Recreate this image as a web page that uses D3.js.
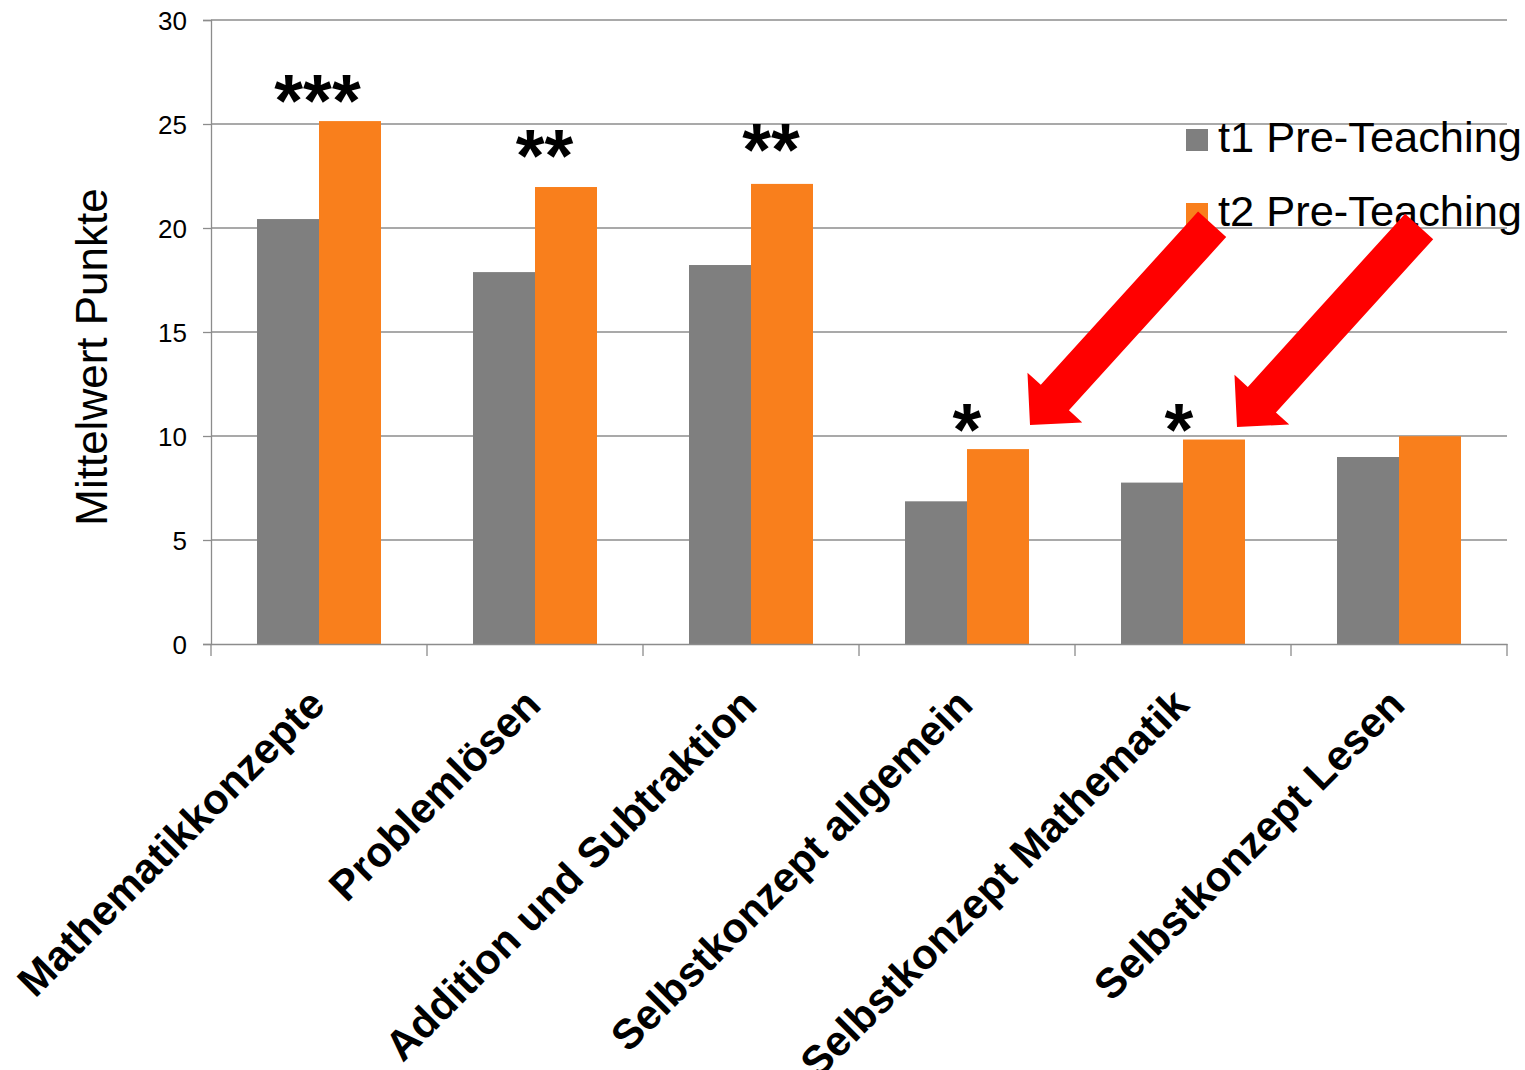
<!DOCTYPE html>
<html><head><meta charset="utf-8">
<script src="https://cdn.jsdelivr.net/npm/d3@7"></script>
<style>
body{margin:0;background:#fff}
svg{display:block}
text{font-family:"Liberation Sans",Arial,Helvetica,sans-serif;fill:#000}
</style>
</head><body>
<svg id="chart" width="1525" height="1070"></svg>
<script>
// ---------- data ----------
const categories = ["Mathematikkonzepte","Problemlösen","Addition und Subtraktion","Selbstkonzept allgemein","Selbstkonzept Mathematik","Selbstkonzept Lesen"];
const seriesNames = ["t1 Pre-Teaching","t2 Pre-Teaching"];
const t1Values = [20.43, 17.88, 18.22, 6.86, 7.76, 8.99];
const t2Values = [25.14, 21.97, 22.12, 9.37, 9.83, 9.99];
const yTicks = [0,5,10,15,20,25,30];
const significance = ["***","**","**","*","*",""];
const yTitle = "Mittelwert Punkte";
// arrows point at the t2 bars of these categories
const arrowTargets = ["Selbstkonzept allgemein","Selbstkonzept Mathematik"];

// ---------- layout / style ----------
const plot = {left:211, right:1507, top:20, bottom:644};
const colors = {"t1 Pre-Teaching":"#7f7f7f","t2 Pre-Teaching":"#f97f1c"};
const gridColor = "#8c8c8c";
const sigLayout = [ {dx:-1.5, y:24.9}, {dx:9.5, y:22.26}, {dx:20, y:22.54}, {dx:0, y:9.1}, {dx:-4, y:9.1}, {dx:0, y:0} ];
const arrowLayout = [ {dx:63, y:10.53}, {dx:54, y:10.43} ];
const arrowGeom = {len:271, headLen:37, headHalf:37, shaftHalf:19, dirX:182, dirY:-200.5};

const svg = d3.select("#chart");
const series = seriesNames.map((name,i)=>({name, values: i===0 ? t1Values : t2Values}));

const x0 = d3.scaleBand().domain(categories).range([plot.left, plot.right]).paddingInner(0).paddingOuter(0);
const x1 = d3.scaleBand().domain(seriesNames).range([0, x0.bandwidth()]).paddingInner(0).paddingOuter(0.742);
const y = d3.scaleLinear().domain([0,30]).range([plot.bottom, plot.top]);

// gridlines
svg.append("g").selectAll("line").data(yTicks.filter(d=>d>0)).join("line")
  .attr("x1", plot.left).attr("x2", plot.right)
  .attr("y1", d=>y(d)).attr("y2", d=>y(d))
  .attr("stroke", gridColor).attr("stroke-width", 1.3);

// bars
const gCat = svg.append("g").selectAll("g").data(categories).join("g")
  .attr("transform", d=>`translate(${x0(d)},0)`);
gCat.selectAll("rect").data((c,ci)=>series.map(s=>({name:s.name, v:s.values[ci]}))).join("rect")
  .attr("x", d=>x1(d.name)).attr("width", x1.bandwidth())
  .attr("y", d=>y(d.v)).attr("height", d=>y(0)-y(d.v))
  .attr("fill", d=>colors[d.name]);

// y axis
const yAxis = d3.axisLeft(y).tickValues(yTicks).tickSize(8).tickPadding(16).tickFormat(d3.format("d"));
const gy = svg.append("g").attr("transform", `translate(${plot.left},0)`).call(yAxis);
gy.select(".domain").attr("stroke", gridColor).attr("stroke-width", 1.3);
gy.selectAll(".tick line").attr("stroke", gridColor).attr("stroke-width", 1.3);
gy.selectAll(".tick text").attr("font-size", 26).attr("font-family", '"Liberation Sans",Arial,sans-serif').attr("fill","#000").attr("dy","0.36em");

// x axis line + ticks at band boundaries
const xAxis = d3.axisBottom(x0).tickSize(0).tickFormat("");
const gx = svg.append("g").attr("transform", `translate(0,${plot.bottom})`).call(xAxis);
gx.select(".domain").attr("stroke", gridColor).attr("stroke-width", 1.3);
const boundaries = categories.map(c=>x0(c)).concat([x0(categories[categories.length-1]) + x0.bandwidth()]);
svg.append("g").selectAll("line").data(boundaries).join("line")
  .attr("x1", d=>d).attr("x2", d=>d).attr("y1", plot.bottom).attr("y2", plot.bottom+12)
  .attr("stroke", gridColor).attr("stroke-width", 1.3);

// x labels
svg.append("g").selectAll("text").data(categories).join("text")
  .attr("transform", d=>`translate(${x0(d)+x0.bandwidth()/2+8},${plot.bottom+63}) rotate(-45)`)
  .attr("text-anchor","end").attr("font-size", 42).attr("font-weight","bold")
  .text(d=>d);

// y title
svg.append("text")
  .attr("transform", `translate(107,${(plot.top+plot.bottom)/2 + 25}) rotate(-90)`)
  .attr("text-anchor","middle").attr("font-size", 44)
  .text(yTitle);

// significance stars
svg.append("g").selectAll("text").data(categories).join("text")
  .attr("x", (d,i)=>x0(d)+x0.bandwidth()/2+sigLayout[i].dx)
  .attr("y", (d,i)=>y(sigLayout[i].y))
  .attr("text-anchor","middle").attr("font-size", 74).attr("font-weight","bold")
  .text((d,i)=>significance[i]);

// legend
const legend = svg.append("g").attr("transform","translate(1186,0)");
const legRows = legend.selectAll("g").data(seriesNames).join("g")
  .attr("transform",(d,i)=>`translate(0,${152 + i*74})`);
legRows.append("rect").attr("x",0).attr("y",-23).attr("width",22).attr("height",22).attr("fill",d=>colors[d]);
legRows.append("text").attr("x",32).attr("y",0).attr("font-size",43.4).text(d=>d);

// arrows
const L = Math.hypot(arrowGeom.dirX, arrowGeom.dirY);
const u = [arrowGeom.dirX/L, arrowGeom.dirY/L];
const n = [-u[1], u[0]];
function pt(tip, a, b){ return [tip[0]+u[0]*a+n[0]*b, tip[1]+u[1]*a+n[1]*b]; }
svg.append("g").selectAll("path").data(arrowTargets).join("path")
  .attr("d", (c,i)=>{
    const tip = [x0(c)+x0.bandwidth()/2+arrowLayout[i].dx, y(arrowLayout[i].y)];
    const g = arrowGeom;
    const pts = [pt(tip,0,0), pt(tip,g.headLen,-g.headHalf), pt(tip,g.headLen,-g.shaftHalf),
      pt(tip,g.len,-g.shaftHalf), pt(tip,g.len,g.shaftHalf), pt(tip,g.headLen,g.shaftHalf), pt(tip,g.headLen,g.headHalf)];
    return d3.line()(pts) + "Z";
  })
  .attr("fill","#ff0000");
</script>
</body></html>
